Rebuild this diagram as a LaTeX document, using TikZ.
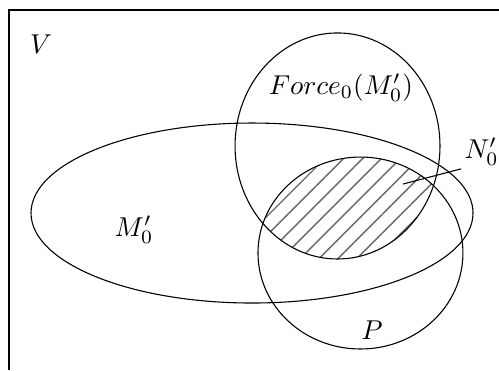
\documentclass[tikz,border=0pt]{standalone}
\usetikzlibrary{patterns.meta}
\begin{document}
\begin{tikzpicture}[scale=1]

\useasboundingbox (0,0) rectangle (6.437,4.773);

% Univers V
\draw (0.116,0) -- (0.116,4.644) -- (6.437,4.644);

\node (v) at (0.529,4.205) {$V$};

% Partie hachuree N'_0
\begin{scope}
\clip (4.354,2.890) ellipse [x radius=1.322, y radius=1.458];
\fill[pattern={Lines[angle=45,distance=4.9pt,line width=0.5pt]}, pattern color=black!60]
(4.650,1.509) ellipse [x radius=1.322, y radius=1.238];
\end{scope}

% Ensemble M'_0
\draw (3.251,2.025) ellipse [x radius=2.851, y radius=1.161];

\node (m0) at (1.729,1.806) {$M'_0$};

% Force_0(M'_0)
\draw (4.354,2.890) ellipse [x radius=1.322, y radius=1.458];

\node (force) at (4.399,3.638) {$Force_0(M'_0)$};

% Ensemble P
\draw (4.650,1.509) ellipse [x radius=1.322, y radius=1.238];

\node (p) at (4.799,0.516) {$P$};

% Etiquette N'_0
\coordinate (n0tip) at (5.199,2.399);
\node (n0) [anchor=south west, inner sep=1pt] at (5.950,2.595) {$N'_0$};
\draw (n0tip) -- (n0.south west);

\end{tikzpicture}
\end{document}
